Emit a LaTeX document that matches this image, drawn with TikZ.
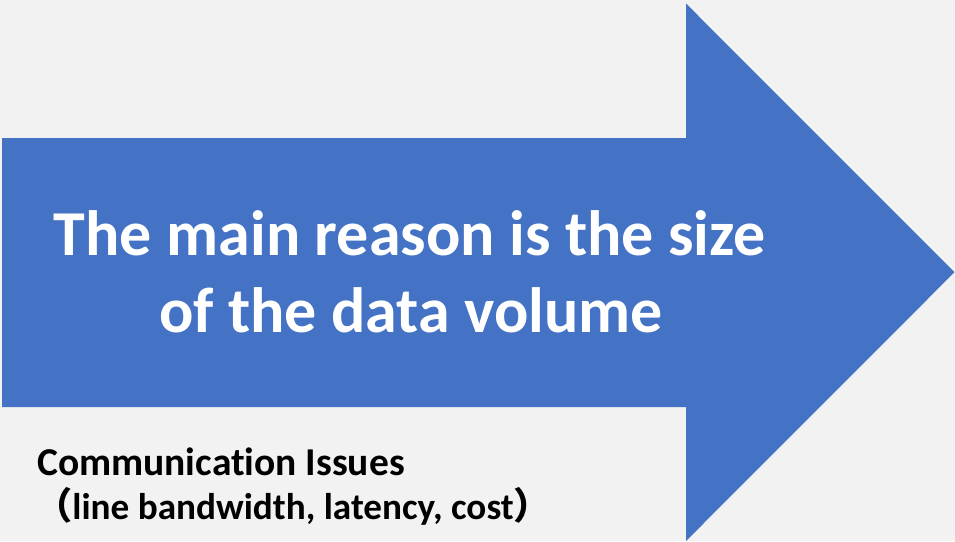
\documentclass[tikz,border=0pt]{standalone}
\usepackage{fontspec}
\setmainfont{Carlito}[Ligatures=NoCommon]
\newfontfamily\cjkfont{Noto Sans CJK SC}
\definecolor{pagebg}{HTML}{F2F2F2}
\definecolor{arrowblue}{HTML}{4472C4}
\begin{document}
\begin{tikzpicture}[x=1pt,y=-1pt,
  bigtext/.style={text=white,font=\fontsize{64}{77}\selectfont\bfseries,inner sep=0pt,anchor=base},
  notetext/.style={text=black,font=\fontsize{39.5}{42}\selectfont\bfseries,inner sep=0pt,anchor=base west},
  subnotetext/.style={notetext,font=\fontsize{37.2}{42}\selectfont\bfseries}]
  % canvas
  \fill[pagebg] (0,0) rectangle (955,541);
  \useasboundingbox (0,0) rectangle (955,541);
  % block arrow pointing right
  \fill[arrowblue] (2,138) -- (686,138) -- (686,3.5) -- (954.5,272.2)
    -- (686,541) -- (686,407) -- (2,407) -- cycle;
  % label inside the arrow
  \node[bigtext] (line1) at (410,255) {The main reason is the size};
  \node[bigtext] (line2) at (411,332) {of the data volume};
  % note below the arrow
  \node[notetext] (note1) at (37,475) {Communication Issues};
  \node[subnotetext] (note2) at (35,519) {{\cjkfont （}line bandwidth, latency, cost{\cjkfont ）}};
\end{tikzpicture}
\end{document}
